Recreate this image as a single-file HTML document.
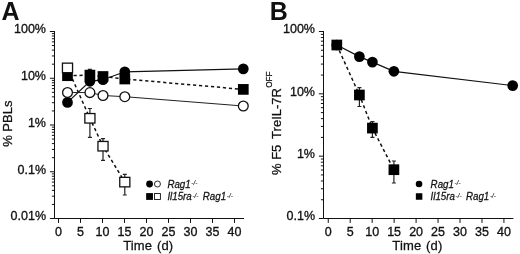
<!DOCTYPE html>
<html><head><meta charset="utf-8"><style>
html,body{margin:0;padding:0;background:#fff;}
body{width:520px;height:254px;overflow:hidden;}
svg{display:block;will-change:transform;font-family:"Liberation Sans",sans-serif;fill:#111;}
.t{font-size:12.5px;stroke:#111;stroke-width:0.32;}
.ax{font-size:13px;stroke:#111;stroke-width:0.27;}
.tm{word-spacing:1px;letter-spacing:0.15px;}
.lg{font-size:10.3px;font-style:italic;stroke:#111;stroke-width:0.25;}
.sup{font-size:6.8px;font-style:italic;stroke-width:0.12;fill:#111;}
.pl{font-size:25px;font-weight:bold;}
.ln{stroke:#111;stroke-width:1.0;fill:none;}
.ds{stroke:#111;stroke-width:1.5;fill:none;stroke-dasharray:3.2 2.8;}
.l2{stroke:#111;stroke-width:1.2;fill:none;}
.l3{stroke:#222;stroke-width:1.0;fill:none;}
.eb{stroke:#222;stroke-width:1.2;fill:none;}
.fm{fill:#000;stroke:none;}
.om{fill:#fff;stroke:#111;stroke-width:1.3;}
</style></head><body>
<svg width="520" height="254" viewBox="0 0 520 254">
<rect width="520" height="254" fill="#fff"/>

<path class="ln" d="M54.5 31.0V218.5H244"/>
<path class="ln" d="M49.9 31.50H54.5 M51.9 64.18H54.5 M51.9 55.94H54.5 M51.9 50.10H54.5 M51.9 45.57H54.5 M51.9 41.87H54.5 M51.9 38.74H54.5 M51.9 36.03H54.5 M51.9 33.64H54.5 M49.9 78.25H54.5 M51.9 110.93H54.5 M51.9 102.69H54.5 M51.9 96.85H54.5 M51.9 92.32H54.5 M51.9 88.62H54.5 M51.9 85.49H54.5 M51.9 82.78H54.5 M51.9 80.39H54.5 M49.9 125.00H54.5 M51.9 157.68H54.5 M51.9 149.44H54.5 M51.9 143.60H54.5 M51.9 139.07H54.5 M51.9 135.37H54.5 M51.9 132.24H54.5 M51.9 129.53H54.5 M51.9 127.14H54.5 M49.9 171.75H54.5 M51.9 204.43H54.5 M51.9 196.19H54.5 M51.9 190.35H54.5 M51.9 185.82H54.5 M51.9 182.12H54.5 M51.9 178.99H54.5 M51.9 176.28H54.5 M51.9 173.89H54.5 M49.9 218.50H54.5 M58.50 218.5V222.9 M80.50 218.5V222.9 M102.50 218.5V222.9 M124.50 218.5V222.9 M146.50 218.5V222.9 M168.50 218.5V222.9 M190.50 218.5V222.9 M212.50 218.5V222.9 M234.50 218.5V222.9"/>
<text class="t" x="46.0" y="33.35" text-anchor="end">100%</text>
<text class="t" x="46.0" y="80.10" text-anchor="end">10%</text>
<text class="t" x="46.0" y="126.85" text-anchor="end">1%</text>
<text class="t" x="46.0" y="173.60" text-anchor="end">0.1%</text>
<text class="t" x="46.0" y="220.35" text-anchor="end">0.01%</text>
<text class="t" x="58.50" y="235.6" text-anchor="middle">0</text>
<text class="t" x="80.50" y="235.6" text-anchor="middle">5</text>
<text class="t" x="102.50" y="235.6" text-anchor="middle">10</text>
<text class="t" x="124.50" y="235.6" text-anchor="middle">15</text>
<text class="t" x="146.50" y="235.6" text-anchor="middle">20</text>
<text class="t" x="168.50" y="235.6" text-anchor="middle">25</text>
<text class="t" x="190.50" y="235.6" text-anchor="middle">30</text>
<text class="t" x="212.50" y="235.6" text-anchor="middle">35</text>
<text class="t" x="234.50" y="235.6" text-anchor="middle">40</text>
<text class="pl" x="1.6" y="19.8">A</text>
<text class="ax" transform="translate(11.6 123.7) rotate(-90)" text-anchor="middle">% PBLs</text>
<text class="ax tm" x="148.2" y="250.3" text-anchor="middle">Time (d)</text>
<path class="l2" d="M67.50 102.40 L89.90 81.30 L103.00 79.70 L124.80 71.80 L243.30 68.90"/>
<path class="l3" d="M67.50 92.50 L89.90 92.60 L103.00 95.50 L124.80 96.70 L243.30 106.00"/>
<path class="ds" d="M67.50 75.70 L89.90 75.10 L103.00 76.50 L124.80 79.00 L243.30 89.40"/>
<path class="ds" d="M67.50 67.90 L89.90 118.30 L103.00 146.20 L124.80 182.10"/>
<path class="eb" d="M87.90 108.50H91.90M89.90 108.50V137.30M87.90 137.30H91.90"/>
<path class="eb" d="M101.00 138.60H105.00M103.00 138.60V160.40M101.00 160.40H105.00"/>
<path class="eb" d="M122.80 174.40H126.80M124.80 174.40V195.00M122.80 195.00H126.80"/>
<path class="eb" d="M87.90 69.40H91.90M89.90 69.40V75.00M87.90 75.00H91.90"/>
<circle class="fm" cx="67.50" cy="102.40" r="5.35"/>
<circle class="fm" cx="89.90" cy="81.30" r="5.35"/>
<circle class="fm" cx="103.00" cy="79.70" r="5.35"/>
<circle class="fm" cx="124.80" cy="71.80" r="5.35"/>
<circle class="fm" cx="243.30" cy="68.90" r="5.35"/>
<rect class="fm" x="62.15" y="70.35" width="10.7" height="10.7"/>
<rect class="fm" x="84.55" y="69.75" width="10.7" height="10.7"/>
<rect class="fm" x="97.65" y="71.15" width="10.7" height="10.7"/>
<rect class="fm" x="119.45" y="73.65" width="10.7" height="10.7"/>
<rect class="fm" x="237.95" y="84.05" width="10.7" height="10.7"/>
<circle class="om" cx="67.50" cy="92.50" r="4.9"/>
<circle class="om" cx="89.90" cy="92.60" r="4.9"/>
<circle class="om" cx="103.00" cy="95.50" r="4.9"/>
<circle class="om" cx="124.80" cy="96.70" r="4.9"/>
<circle class="om" cx="243.30" cy="106.00" r="4.9"/>
<rect class="om" x="62.45" y="63.15" width="10.1" height="9.5"/>
<rect class="om" x="84.85" y="113.55" width="10.1" height="9.5"/>
<rect class="om" x="97.95" y="141.45" width="10.1" height="9.5"/>
<rect class="om" x="119.75" y="177.35" width="10.1" height="9.5"/>
<circle class="fm" cx="149.55" cy="184.00" r="3.4"/>
<circle cx="157.45" cy="184" r="3.0" fill="#fff" stroke="#111" stroke-width="0.9"/>
<rect class="fm" x="146.15" y="193.10" width="6.8" height="6.8"/>
<rect x="154.5" y="193.55" width="5.9" height="5.9" fill="#fff" stroke="#111" stroke-width="0.9"/>
<g transform="translate(167.4 187.9) scale(0.945 1)"><text class="lg">Rag1<tspan class="sup" dy="-2.7" dx="0.7">-/-</tspan></text></g>
<g transform="translate(167.4 200.4) scale(0.945 1)"><text class="lg">Il15ra<tspan class="sup" dy="-2.7" dx="0.7">-/-</tspan><tspan dy="2.7" dx="4.6">Rag1</tspan><tspan class="sup" dy="-2.7" dx="0.7">-/-</tspan></text></g>
<path class="ln" d="M323.5 31.0V218.5H513.4"/>
<path class="ln" d="M318.9 31.50H323.5 M320.9 75.07H323.5 M320.9 64.09H323.5 M320.9 56.30H323.5 M320.9 50.26H323.5 M320.9 45.33H323.5 M320.9 41.16H323.5 M320.9 37.54H323.5 M320.9 34.35H323.5 M318.9 93.83H323.5 M320.9 137.40H323.5 M320.9 126.43H323.5 M320.9 118.64H323.5 M320.9 112.60H323.5 M320.9 107.66H323.5 M320.9 103.49H323.5 M320.9 99.87H323.5 M320.9 96.69H323.5 M318.9 156.17H323.5 M320.9 199.74H323.5 M320.9 188.76H323.5 M320.9 180.97H323.5 M320.9 174.93H323.5 M320.9 170.00H323.5 M320.9 165.82H323.5 M320.9 162.21H323.5 M320.9 159.02H323.5 M318.9 218.50H323.5 M328.25 218.5V222.9 M350.21 218.5V222.9 M372.17 218.5V222.9 M394.13 218.5V222.9 M416.09 218.5V222.9 M438.05 218.5V222.9 M460.01 218.5V222.9 M481.97 218.5V222.9 M503.93 218.5V222.9"/>
<text class="t" x="315.0" y="33.35" text-anchor="end">100%</text>
<text class="t" x="315.0" y="95.68" text-anchor="end">10%</text>
<text class="t" x="315.0" y="158.02" text-anchor="end">1%</text>
<text class="t" x="315.0" y="220.35" text-anchor="end">0.1%</text>
<text class="t" x="328.25" y="235.6" text-anchor="middle">0</text>
<text class="t" x="350.21" y="235.6" text-anchor="middle">5</text>
<text class="t" x="372.17" y="235.6" text-anchor="middle">10</text>
<text class="t" x="394.13" y="235.6" text-anchor="middle">15</text>
<text class="t" x="416.09" y="235.6" text-anchor="middle">20</text>
<text class="t" x="438.05" y="235.6" text-anchor="middle">25</text>
<text class="t" x="460.01" y="235.6" text-anchor="middle">30</text>
<text class="t" x="481.97" y="235.6" text-anchor="middle">35</text>
<text class="t" x="503.93" y="235.6" text-anchor="middle">40</text>
<text class="pl" x="269.8" y="19.7">B</text>
<text class="ax" transform="translate(281.4 175) rotate(-90)">% F5<tspan dx="2.4"> TreIL-7R</tspan><tspan font-size="8.2" dy="-9.5" dx="0.3" style="stroke-width:0.2">OFF</tspan></text>
<text class="ax tm" x="417.4" y="250.3" text-anchor="middle">Time (d)</text>
<path class="l2" d="M336.80 45.00 L359.40 56.60 L372.40 62.10 L393.90 71.30 L512.70 85.60"/>
<path class="ds" d="M336.80 45.00 L359.40 95.00 L372.40 128.10 L393.90 169.70"/>
<path class="eb" d="M357.40 87.60H361.40M359.40 87.60V106.50M357.40 106.50H361.40"/>
<path class="eb" d="M370.40 121.60H374.40M372.40 121.60V137.40M370.40 137.40H374.40"/>
<path class="eb" d="M391.90 161.00H395.90M393.90 161.00V183.00M391.90 183.00H395.90"/>
<circle class="fm" cx="336.80" cy="45.00" r="5.35"/>
<circle class="fm" cx="359.40" cy="56.60" r="5.35"/>
<circle class="fm" cx="372.40" cy="62.10" r="5.35"/>
<circle class="fm" cx="393.90" cy="71.30" r="5.35"/>
<circle class="fm" cx="512.70" cy="85.60" r="5.35"/>
<rect class="fm" x="331.45" y="39.65" width="10.7" height="10.7"/>
<rect class="fm" x="354.05" y="89.65" width="10.7" height="10.7"/>
<rect class="fm" x="367.05" y="122.75" width="10.7" height="10.7"/>
<rect class="fm" x="388.55" y="164.35" width="10.7" height="10.7"/>
<circle class="fm" cx="419.05" cy="184.00" r="3.3"/>
<rect class="fm" x="415.85" y="193.25" width="6.5" height="6.5"/>
<g transform="translate(430.6 187.9) scale(0.945 1)"><text class="lg">Rag1<tspan class="sup" dy="-2.7" dx="0.7">-/-</tspan></text></g>
<g transform="translate(430.6 200.4) scale(0.945 1)"><text class="lg">Il15ra<tspan class="sup" dy="-2.7" dx="0.7">-/-</tspan><tspan dy="2.7" dx="4.6">Rag1</tspan><tspan class="sup" dy="-2.7" dx="0.7">-/-</tspan></text></g>
</svg></body></html>
